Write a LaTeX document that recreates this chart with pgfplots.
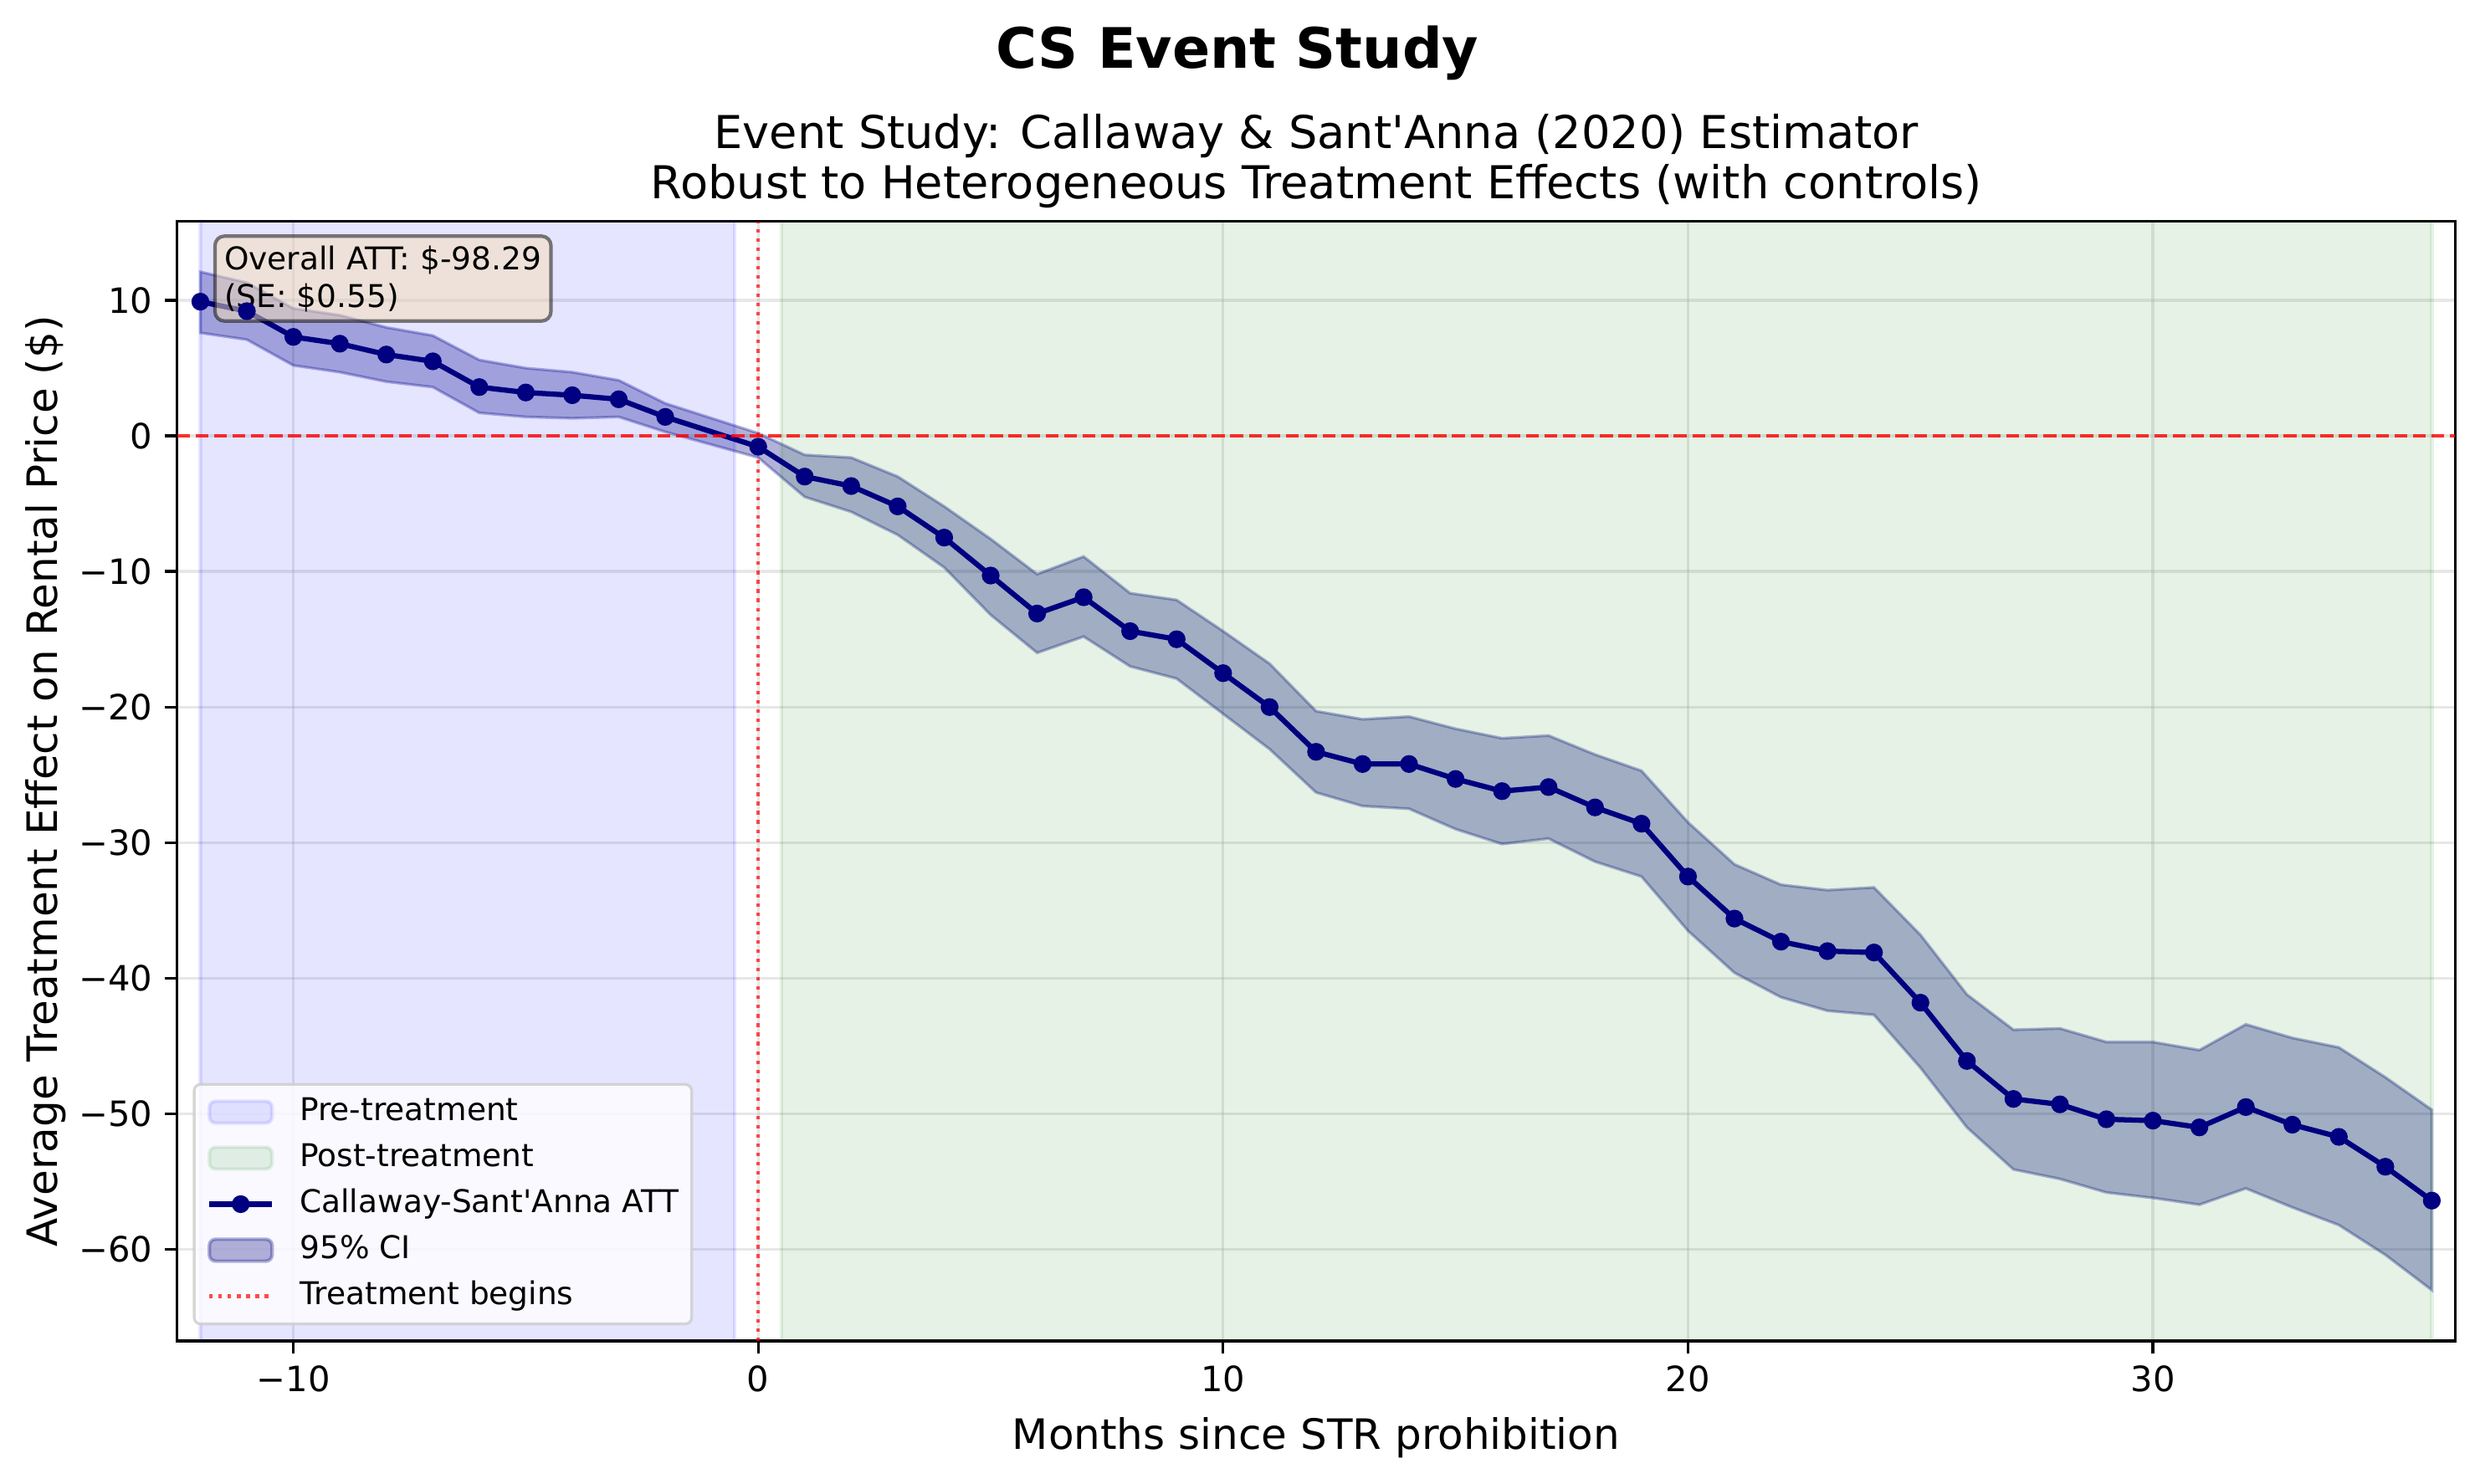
\documentclass[border=0pt]{standalone}
\usepackage{fontspec}
\setmainfont{DejaVu Sans}[Ligatures=TeXOff]
\usepackage{pgfplots}
\pgfplotsset{compat=1.18}
\usepackage{pgfplotstable}
\usepgfplotslibrary{fillbetween}

\definecolor{mplnavy}{RGB}{0,0,128}
\definecolor{mplblue}{RGB}{0,0,255}
\definecolor{mplgreen}{RGB}{0,128,0}
\definecolor{mplred}{RGB}{255,0,0}
\definecolor{wheat}{RGB}{245,222,179}
\definecolor{mplgrid}{RGB}{176,176,176}
\definecolor{legedge}{RGB}{204,204,204}

\pgfplotstableread{
x att lo hi
-12 9.9 7.6 12.1
-11 9.2 7.1 11.3
-10 7.3 5.2 9.4
-9 6.8 4.7 8.9
-8 6.0 4.0 8.0
-7 5.5 3.6 7.4
-6 3.6 1.7 5.6
-5 3.2 1.4 5.0
-4 3.0 1.3 4.7
-3 2.7 1.4 4.1
-2 1.4 0.3 2.4
0 -0.8 -1.6 0.2
1 -3.0 -4.5 -1.4
2 -3.7 -5.6 -1.6
3 -5.2 -7.3 -3.0
4 -7.5 -9.7 -5.2
5 -10.3 -13.2 -7.6
6 -13.1 -16.0 -10.2
7 -11.9 -14.8 -8.9
8 -14.4 -17.0 -11.6
9 -15.0 -17.9 -12.1
10 -17.5 -20.5 -14.4
11 -20.0 -23.1 -16.8
12 -23.3 -26.3 -20.3
13 -24.2 -27.3 -20.9
14 -24.2 -27.5 -20.7
15 -25.3 -29.0 -21.6
16 -26.2 -30.1 -22.3
17 -25.9 -29.7 -22.1
18 -27.4 -31.4 -23.5
19 -28.6 -32.5 -24.7
20 -32.5 -36.5 -28.5
21 -35.6 -39.6 -31.6
22 -37.3 -41.4 -33.1
23 -38.0 -42.4 -33.5
24 -38.1 -42.7 -33.3
25 -41.8 -46.6 -36.8
26 -46.1 -51.0 -41.2
27 -48.9 -54.1 -43.8
28 -49.3 -54.8 -43.7
29 -50.4 -55.8 -44.7
30 -50.5 -56.2 -44.7
31 -51.0 -56.7 -45.3
32 -49.5 -55.5 -43.4
33 -50.8 -56.9 -44.4
34 -51.7 -58.2 -45.1
35 -53.9 -60.4 -47.3
36 -56.4 -63.0 -49.7
}\csdata

\pgfplotsset{
  mplpatch/.style={legend image code/.code={\draw[##1] (0pt,-3.15pt) rectangle (18pt,3.15pt);}},
  mplmarkline/.style={legend image code/.code={\draw[mark repeat=2,mark phase=2,##1] plot coordinates {(0pt,0pt) (9pt,0pt) (18pt,0pt)};}},
  mplplainline/.style={legend image code/.code={\draw[##1] (0pt,0pt) -- (18pt,0pt);}},
}

\begin{document}
\begin{tikzpicture}
\begin{axis}[
  at={(50.8pt,40.8pt)}, anchor=south west,
  scale only axis, width=653.4pt, height=321.2pt,
  xmin=-12.5, xmax=36.5, ymin=-66.75, ymax=15.82,
  xtick={-10,0,10,20,30}, xticklabels={−10,0,10,20,30},
  ytick={-60,-50,-40,-30,-20,-10,0,10},
  yticklabels={−60,−50,−40,−30,−20,−10,0,10},
  xtick pos=bottom, ytick pos=left,
  tick align=outside, major tick length=3.5pt,
  tick style={black, line width=0.8pt},
  axis line style={black, line width=0.8pt},
  grid=major,
  major grid style={draw=mplgrid, line width=0.8pt, opacity=0.3},
  ticklabel style={font=\fontsize{10}{12}\selectfont},
  label style={font=\fontsize{12}{14.4}\selectfont},
  xlabel={Months since STR prohibition},
  ylabel={Average Treatment Effect on Rental Price (\$)},
  xlabel style={at={(axis description cs:0.5,-0.0971)}, anchor=base},
  ylabel style={at={(axis description cs:-0.05265,0.5)}, anchor=base},
  legend style={at={(axis description cs:0,0)}, anchor=south west,
    xshift=4.5pt, yshift=4.5pt,
    font=\fontsize{9}{10.8}\selectfont,
    draw=legedge, line width=0.8pt, fill=white, opacity=0.8, text opacity=1,
    rounded corners=1.8pt,
    inner xsep=3.6pt, inner ysep=3.6pt,
    row sep=4.5pt, column sep=7.2pt,
    nodes={inner sep=0pt, text height=6.7pt, text depth=2pt},
  },
  legend cell align=left,
]
% shaded periods
\addplot[forget plot, fill=mplblue, fill opacity=0.1, draw=mplblue, draw opacity=0.1, line width=1pt]
  coordinates {(-12,-100) (-12,100) (-0.5,100) (-0.5,-100)};
\addplot[forget plot, fill=mplgreen, fill opacity=0.1, draw=mplgreen, draw opacity=0.1, line width=1pt]
  coordinates {(0.5,-100) (0.5,100) (36,100) (36,-100)};
% CI band
\addplot[forget plot, name path=cihi, draw=none] table[x=x,y=hi]{\csdata};
\addplot[forget plot, name path=cilo, draw=none] table[x=x,y=lo]{\csdata};
\addplot[forget plot, fill=mplnavy, fill opacity=0.3, draw=mplnavy, draw opacity=0.3, line width=0.8pt]
  fill between[of=cihi and cilo];
% ATT line
\addplot[forget plot, mplnavy, line width=1.5pt, mark=*, mark size=2.3pt,
  mark options={solid, fill=mplnavy, draw=mplnavy, line width=0.5pt}]
  table[x=x,y=att]{\csdata};
% reference lines
\addplot[forget plot, mplred, draw opacity=0.8, line width=1pt, dash pattern=on 3.7pt off 1.6pt]
  coordinates {(-12.5,0) (36.5,0)};
\addplot[forget plot, mplred, draw opacity=0.7, line width=1pt, dash pattern=on 1pt off 1.65pt]
  coordinates {(0,-66.75) (0,15.82)};
% legend
\addlegendimage{mplpatch, fill=mplblue, fill opacity=0.1, draw=mplblue, draw opacity=0.1, line width=1pt}
\addlegendentry{Pre-treatment}
\addlegendimage{mplpatch, fill=mplgreen, fill opacity=0.1, draw=mplgreen, draw opacity=0.1, line width=1pt}
\addlegendentry{Post-treatment}
\addlegendimage{mplmarkline, mplnavy, opacity=1, line width=1.5pt, mark=*, mark size=2.3pt, mark options={solid, fill=mplnavy, line width=0.5pt}}
\addlegendentry{Callaway-Sant'Anna ATT}
\addlegendimage{mplpatch, fill=mplnavy, fill opacity=0.3, draw=mplnavy, draw opacity=0.3, line width=1pt}
\addlegendentry{95\% CI}
\addlegendimage{mplplainline, mplred, draw opacity=0.7, line width=1pt, dash pattern=on 1pt off 1.65pt}
\addlegendentry{Treatment begins}
% annotation
\node[anchor=north west, xshift=-2.7pt, yshift=2.7pt, inner sep=2.7pt,
  fill=wheat, fill opacity=0.5, draw=black, draw opacity=0.5, line width=1pt,
  text opacity=1, rounded corners=2.7pt, align=left,
  font=\fontsize{9}{10.8}\selectfont]
  at (rel axis cs:0.02,0.98) {Overall ATT: \$-98.29\\(SE: \$0.55)};
\end{axis}
\node[font=\fontsize{16}{19.2}\selectfont\bfseries, anchor=base, inner sep=0pt] at (355pt,405.9pt) {CS Event Study};
\node[font=\fontsize{13}{15.6}\selectfont, anchor=base, inner sep=0pt] at (377.6pt,382.8pt) {Event Study: Callaway \& Sant'Anna (2020) Estimator};
\node[font=\fontsize{13}{15.6}\selectfont, anchor=base, inner sep=0pt] at (377.6pt,368.4pt) {Robust to Heterogeneous Treatment Effects (with controls)};
\pgfresetboundingbox
\path[use as bounding box] (0,0) rectangle (711.36pt,425.52pt);
\end{tikzpicture}
\end{document}
